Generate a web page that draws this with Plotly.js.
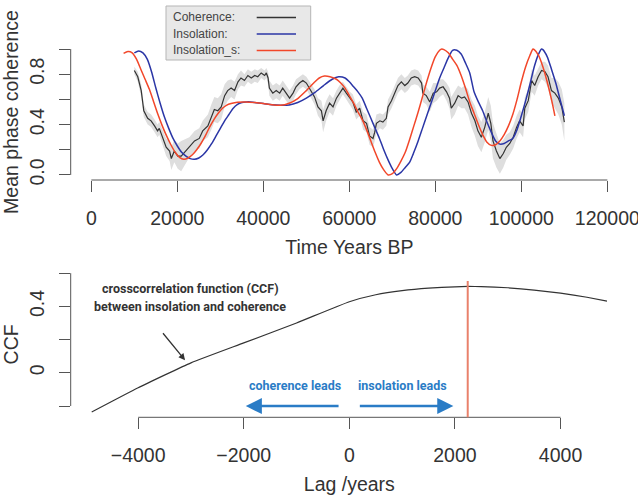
<!DOCTYPE html>
<html><head><meta charset="utf-8">
<script src="https://cdn.plot.ly/plotly-3.0.1.min.js"></script>
<style>html,body{margin:0;padding:0;background:#fff}#chart{width:638px;height:504px}</style>
</head><body><div id="chart"></div>
<script>
// ---- Top panel data (Time Years BP) ----
const cohX = [
 10000,10800,11600,12200,13100,13900,14700,15400,15800,16600,
 17400,18200,18600,19300,20100,20900,22000,22800,24000,25100,
 25900,27100,27900,28600,29400,30200,31000,31700,32500,33300,
 34100,34800,35600,36400,37200,38000,38700,39500,40300,40700,
 41100,41400,42200,43000,43800,44500,45300,46100,46900,47600,
 48400,49200,50000,50700,51900,52700,53500,53900,54600,55400,
 56200,57000,57700,58500,59300,60100,60800,61600,62400,63200,
 64000,64700,65500,65900,66300,67100,67800,68600,69000,69800,
 70500,71300,72100,72900,73600,74400,75200,76000,76800,77100,
 77900,78700,79500,80300,81000,81800,82600,83300,83700,84500,
 85300,86100,86800,87600,88400,89200,89900,90700,91500,92300,
 92900,93400,94200,95000,95800,96500,97300,98100,98900,99600,
 100400,100800,101600,102400,103100,103900,104700,105500,106200,107000,
 107800,108600,109400,110000];
const cohY = [
 0.83,0.78,0.67,0.51,0.45,0.43,0.39,0.35,0.37,0.30,
 0.22,0.19,0.13,0.19,0.15,0.15,0.19,0.22,0.27,0.29,
 0.35,0.39,0.46,0.52,0.51,0.54,0.63,0.67,0.69,0.67,
 0.74,0.77,0.75,0.79,0.77,0.79,0.78,0.81,0.79,0.81,
 0.77,0.69,0.65,0.67,0.65,0.69,0.65,0.61,0.65,0.70,
 0.73,0.75,0.73,0.69,0.62,0.54,0.51,0.43,0.51,0.57,
 0.54,0.61,0.65,0.69,0.65,0.61,0.58,0.50,0.53,0.43,
 0.41,0.31,0.29,0.34,0.41,0.43,0.42,0.45,0.54,0.59,
 0.65,0.71,0.74,0.71,0.73,0.77,0.78,0.77,0.73,0.65,
 0.63,0.58,0.65,0.66,0.69,0.70,0.66,0.61,0.53,0.57,
 0.63,0.61,0.62,0.58,0.49,0.43,0.35,0.30,0.38,0.49,
 0.41,0.27,0.19,0.13,0.17,0.22,0.25,0.30,0.38,0.43,
 0.39,0.53,0.59,0.75,0.71,0.78,0.83,0.82,0.78,0.67,
 0.65,0.61,0.54,0.42];
// half-width of the grey uncertainty band at each coherence point
const cohW = [
 0.03,0.04,0.05,0.05,0.05,0.05,0.05,0.05,0.05,0.06,
 0.07,0.08,0.09,0.09,0.10,0.12,0.10,0.08,0.08,0.08,
 0.08,0.09,0.10,0.10,0.10,0.10,0.09,0.08,0.07,0.07,
 0.06,0.06,0.05,0.05,0.05,0.05,0.05,0.04,0.04,0.04,
 0.05,0.06,0.06,0.06,0.06,0.06,0.06,0.06,0.06,0.06,
 0.05,0.05,0.05,0.05,0.06,0.07,0.08,0.09,0.08,0.07,
 0.07,0.06,0.06,0.05,0.05,0.05,0.06,0.06,0.06,0.07,
 0.07,0.07,0.07,0.07,0.07,0.06,0.06,0.06,0.06,0.06,
 0.06,0.06,0.06,0.06,0.06,0.06,0.06,0.06,0.06,0.07,
 0.07,0.08,0.08,0.07,0.07,0.06,0.07,0.08,0.09,0.09,
 0.08,0.08,0.09,0.10,0.11,0.12,0.12,0.12,0.12,0.13,
 0.14,0.14,0.13,0.12,0.11,0.10,0.09,0.09,0.09,0.09,
 0.09,0.09,0.09,0.09,0.08,0.07,0.07,0.08,0.09,0.10,
 0.12,0.13,0.14,0.15];

const insX = [10000,11000,12000,13000,14000,15000,16000,17000,18000,19000,
 20000,21000,22000,23000,24000,25000,26000,27000,28000,29000,
 30000,31000,32000,33000,34000,35000,36000,37000,38000,40000,
 42000,44000,46000,48000,50000,52000,54000,56000,57500,59000,
 60000,61000,62000,63000,64000,65000,66000,67000,68000,69000,
 70000,71000,72000,73000,74000,75000,76000,77000,78000,79000,
 80000,81000,82000,83000,84000,85000,86000,87000,88000,89000,
 90000,91000,92000,93000,94000,95000,96000,97000,98000,99000,
 100000,101000,102000,103000,104000,104700,105000,106000,107000,108000,
 109000,110000];
const insY = [0.97,0.985,0.97,0.92,0.82,0.69,0.57,0.46,0.37,0.29,
 0.23,0.18,0.15,0.13,0.125,0.135,0.16,0.20,0.25,0.31,
 0.37,0.43,0.48,0.53,0.56,0.575,0.58,0.58,0.575,0.567,
 0.557,0.553,0.555,0.575,0.61,0.655,0.71,0.76,0.78,0.77,
 0.74,0.70,0.66,0.61,0.53,0.45,0.37,0.29,0.20,0.12,
 0.05,0.0,0.02,0.06,0.10,0.18,0.27,0.37,0.47,0.57,
 0.67,0.77,0.85,0.93,0.99,0.99,0.96,0.89,0.81,0.66,
 0.58,0.51,0.42,0.34,0.27,0.245,0.25,0.27,0.29,0.36,
 0.47,0.59,0.72,0.86,0.96,1.0,0.995,0.94,0.84,0.73,
 0.60,0.47];

const insSX = [7500,8500,9500,10500,11500,12500,13500,14500,15500,16500,
 17500,18500,19500,20500,21500,22500,23500,24500,25500,26500,
 27500,28500,29500,30500,31500,32500,34000,36000,38000,40000,
 42000,44000,46000,48000,50000,52000,53000,54200,55500,57000,
 58000,59000,60000,61000,62000,63000,64000,65000,66000,67000,
 68000,69000,70000,71000,72000,73000,74000,75000,76000,77000,
 78000,79000,80000,81000,81500,82000,83000,84000,85000,86000,
 87000,88000,89000,90000,91000,92000,93000,94000,95000,96000,
 97000,98000,99000,100000,101000,102000,102700,103000,104000,105000,
 106000,107000,107800];
const insSY = [0.965,0.98,0.97,0.92,0.84,0.76,0.68,0.58,0.48,0.39,
 0.31,0.24,0.18,0.14,0.125,0.135,0.16,0.20,0.25,0.31,
 0.38,0.44,0.49,0.53,0.555,0.567,0.578,0.58,0.575,0.567,
 0.557,0.553,0.57,0.607,0.67,0.74,0.77,0.785,0.78,0.76,
 0.73,0.69,0.63,0.57,0.50,0.44,0.36,0.27,0.18,0.10,
 0.04,0.0,0.01,0.05,0.11,0.18,0.28,0.39,0.50,0.62,
 0.74,0.85,0.94,0.99,1.0,0.995,0.97,0.92,0.87,0.79,
 0.69,0.58,0.49,0.40,0.32,0.26,0.235,0.24,0.27,0.32,
 0.39,0.48,0.60,0.74,0.86,0.95,1.0,0.995,0.95,0.86,
 0.74,0.60,0.47];

// ---- Bottom panel data (cross-correlation) ----
const lagX = [-4880,-4000,-3000,-2000,-1000,0,500,1000,1500,2000,2250,2500,3000,3500,4000,4500,4880];
const ccfY = [-0.236,-0.09,0.06,0.18,0.30,0.428,0.47,0.495,0.51,0.518,0.52,0.519,0.512,0.498,0.48,0.455,0.432];
const lagMax = 2242;

// ---- Tick labels ----
const topXTicks = [0,20000,40000,60000,80000,100000,120000];
const topXLabels = ['0','20000','40000','60000','80000','100000','120000'];
const topYTicks = [0,0.2,0.4,0.6,0.8,1.0];
const topYLabels = ['0.0','','0.4','','0.8',''];
const botXTicks = [-4000,-2000,0,2000,4000];
const botXLabels = ['\u22124000','\u22122000','0','2000','4000'];
const botYTicks = [-0.2,0,0.2,0.4,0.6];
const botYLabels = ['','0','','0.4',''];
const legendNames = ['Coherence:','Insolation:','Insolation_s:'];

// ---- styling / layout ----
const W = 638, H = 504;
const px = v => v / W, py = v => 1 - v / H;
const C_COH = '#333333', C_INS = '#2b36a6', C_INSS = '#f2472a';
const C_BLUE = '#2a7cc6';
const FONT = 'Liberation Sans, Arial, Helvetica, sans-serif';
const NARROW = 'Roboto, Liberation Sans, sans-serif';
const TF = {family: FONT, size: 19.5, color: '#333'};
const NF = (c) => ({family: NARROW, size: 12.5, color: c, weight: 700});

const hi = cohY.map((v, i) => v + cohW[i]);
const lo = cohY.map((v, i) => v - cohW[i]);

const traces = [
  {x: cohX, y: hi, type: 'scatter', mode: 'lines', line: {width: 0, color: 'rgba(0,0,0,0)'}, xaxis: 'x', yaxis: 'y', hoverinfo: 'skip', showlegend: false},
  {x: cohX, y: lo, type: 'scatter', mode: 'lines', line: {width: 0, color: 'rgba(0,0,0,0)'}, fill: 'tonexty', fillcolor: '#dedede', xaxis: 'x', yaxis: 'y', hoverinfo: 'skip', showlegend: false},
  {x: cohX, y: cohY, name: 'Coherence', type: 'scatter', mode: 'lines', line: {color: C_COH, width: 1.2}, xaxis: 'x', yaxis: 'y', showlegend: false},
  {x: insX, y: insY, name: 'Insolation', type: 'scatter', mode: 'lines', line: {color: C_INS, width: 1.5, shape: 'spline', smoothing: 0.6}, xaxis: 'x', yaxis: 'y', showlegend: false},
  {x: insSX, y: insSY, name: 'Insolation_s', type: 'scatter', mode: 'lines', line: {color: C_INSS, width: 1.5, shape: 'spline', smoothing: 0.6}, xaxis: 'x', yaxis: 'y', showlegend: false},
  {x: lagX, y: ccfY, name: 'CCF', type: 'scatter', mode: 'lines', line: {color: C_COH, width: 1.2, shape: 'spline', smoothing: 0.4}, xaxis: 'x2', yaxis: 'y2', showlegend: false}
];

const xDom = [px(70.7), px(628)];
const axisCommon = {
  showgrid: false, zeroline: false, showline: false, ticks: 'outside', ticklen: 11,
  tickwidth: 1, tickcolor: '#555', tickfont: TF, tickmode: 'array', automargin: false,
  fixedrange: true, ticklabeloverflow: 'allow'
};

const layout = {
  width: W, height: H, margin: {l: 0, r: 0, t: 0, b: 0},
  paper_bgcolor: '#fff', plot_bgcolor: '#fff', showlegend: false,
  xaxis: Object.assign({}, axisCommon, {domain: xDom, anchor: 'y', range: [-4800, 124800],
    tickvals: topXTicks, ticktext: topXLabels, ticklabelstandoff: 10,
    title: {text: 'Time Years BP', font: TF, standoff: 11}}),
  yaxis: Object.assign({}, axisCommon, {domain: [py(180), py(44)], anchor: 'x', range: [-0.04, 1.04],
    tickvals: topYTicks, ticktext: topYLabels, tickangle: -90, ticklabelstandoff: 7,
    title: {text: 'Mean phase coherence', font: TF, standoff: 5}}),
  xaxis2: Object.assign({}, axisCommon, {domain: xDom, anchor: 'y2', range: [-5278, 5278],
    tickvals: botXTicks, ticktext: botXLabels, ticklabelstandoff: 9,
    title: {text: 'Lag /years', font: TF, standoff: 12}}),
  yaxis2: Object.assign({}, axisCommon, {domain: [py(417.3), py(271.5)], anchor: 'x2', range: [-0.268, 0.61],
    tickvals: botYTicks, ticktext: botYLabels, tickangle: -90, ticklabelstandoff: 7,
    title: {text: 'CCF', font: TF, standoff: 5}}),
  shapes: [
    // R-style axis lines (first to last tick)
    {type: 'line', xref: 'x', yref: 'paper', x0: topXTicks[0], x1: topXTicks[topXTicks.length - 1], y0: py(180), y1: py(180), line: {color: '#555', width: 1}},
    {type: 'line', xref: 'paper', yref: 'y', x0: px(70.7), x1: px(70.7), y0: topYTicks[0], y1: topYTicks[topYTicks.length - 1], line: {color: '#555', width: 1}},
    {type: 'line', xref: 'x2', yref: 'paper', x0: botXTicks[0], x1: botXTicks[botXTicks.length - 1], y0: py(417.3), y1: py(417.3), line: {color: '#555', width: 1}},
    {type: 'line', xref: 'paper', yref: 'y2', x0: px(70.7), x1: px(70.7), y0: botYTicks[0], y1: botYTicks[botYTicks.length - 1], line: {color: '#555', width: 1}},
    // lag of maximum correlation
    {type: 'line', xref: 'x2', yref: 'y2 domain', x0: lagMax, x1: lagMax, y0: 0, y1: 0.935, line: {color: '#e9816b', width: 2}},
    // legend box
    {type: 'rect', xref: 'paper', yref: 'paper', x0: px(166), x1: px(310.7), y0: py(60), y1: py(6), fillcolor: '#e8e8e8', line: {color: '#b5b5b5', width: 1}},
    {type: 'line', xref: 'paper', yref: 'paper', x0: px(256.7), x1: px(296), y0: py(17.5), y1: py(17.5), line: {color: C_COH, width: 1.5}},
    {type: 'line', xref: 'paper', yref: 'paper', x0: px(256.7), x1: px(296), y0: py(34), y1: py(34), line: {color: C_INS, width: 1.5}},
    {type: 'line', xref: 'paper', yref: 'paper', x0: px(256.7), x1: px(296), y0: py(50.5), y1: py(50.5), line: {color: C_INSS, width: 1.5}}
  ],
  annotations: [
    // legend texts
    {xref: 'paper', yref: 'paper', x: px(171), y: py(17.5), text: legendNames[0], showarrow: false, xanchor: 'left', yanchor: 'middle', font: {family: FONT, size: 12, color: '#444'}},
    {xref: 'paper', yref: 'paper', x: px(171), y: py(34), text: legendNames[1], showarrow: false, xanchor: 'left', yanchor: 'middle', font: {family: FONT, size: 12, color: '#444'}},
    {xref: 'paper', yref: 'paper', x: px(171), y: py(50.5), text: legendNames[2], showarrow: false, xanchor: 'left', yanchor: 'middle', font: {family: FONT, size: 12, color: '#444'}},
    // CCF label + arrow
    {xref: 'x2', yref: 'y2', x: -3017, y: 0.508, text: 'crosscorrelation function (CCF)', showarrow: false, font: NF('#333')},
    {xref: 'x2', yref: 'y2', x: -3017, y: 0.397, text: 'between insolation and coherence', showarrow: false, font: NF('#333')},
    {xref: 'x2', yref: 'y2', axref: 'x2', ayref: 'y2', x: -3112, y: 0.076, ax: -3553, ay: 0.247, text: '', showarrow: true, arrowhead: 2, arrowsize: 1, arrowwidth: 1.3, arrowcolor: '#333'},
    // lead annotations
    {xref: 'x2', yref: 'y2', x: -1028, y: -0.074, text: 'coherence leads', showarrow: false, font: NF(C_BLUE)},
    {xref: 'x2', yref: 'y2', x: 1008, y: -0.074, text: 'insolation leads', showarrow: false, font: NF(C_BLUE)},
    {xref: 'x2', yref: 'y2', axref: 'x2', ayref: 'y2', x: -1962, y: -0.2, ax: -176, ay: -0.2, text: '', showarrow: true, arrowhead: 2, arrowsize: 1.4, arrowwidth: 2.3, arrowcolor: C_BLUE},
    {xref: 'x2', yref: 'y2', axref: 'x2', ayref: 'y2', x: 1970, y: -0.2, ax: 170, ay: -0.2, text: '', showarrow: true, arrowhead: 2, arrowsize: 1.4, arrowwidth: 2.3, arrowcolor: C_BLUE}
  ]
};

Plotly.newPlot('chart', traces, layout, {staticPlot: true, displayModeBar: false});
</script>
</body></html>
